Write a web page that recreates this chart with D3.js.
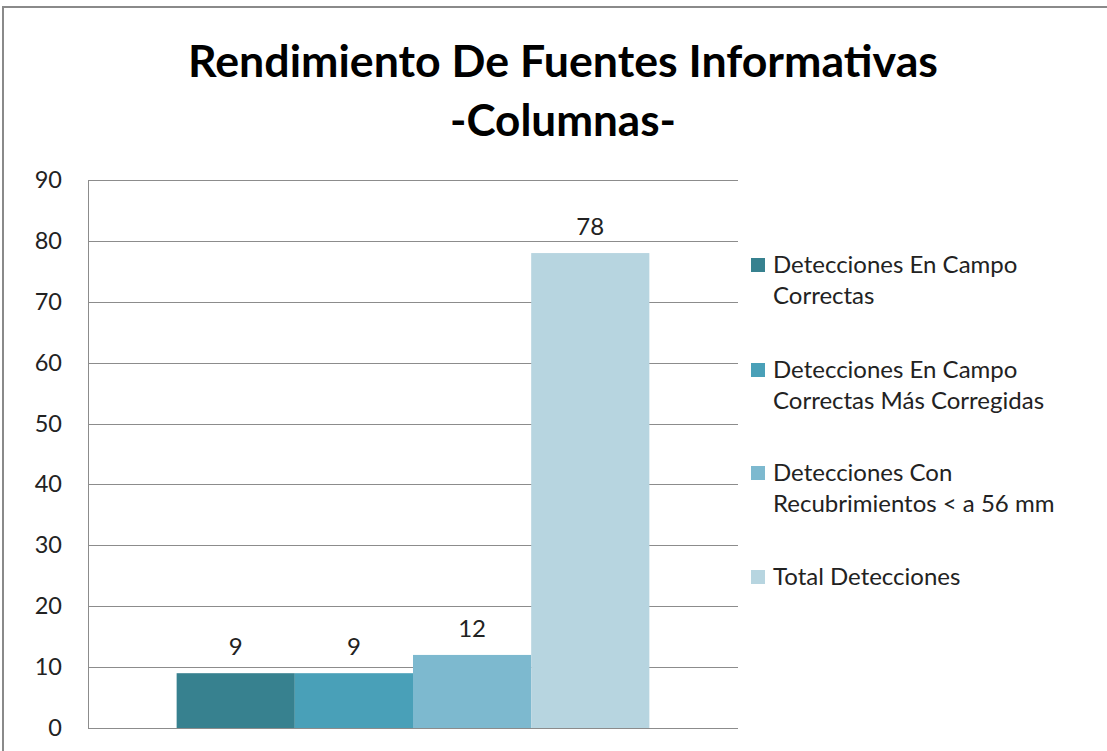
<!DOCTYPE html>
<html><head><meta charset="utf-8">
<script src="https://cdn.jsdelivr.net/npm/d3@7"></script>
<style>body{margin:0;background:#fff}svg{display:block}</style>
</head><body>
<svg id="c" width="1107" height="751"></svg>
<script>
const titleLines = ["Rendimiento De Fuentes Informativas", "-Columnas-"];
const seriesNames = ["Detecciones En Campo|Correctas", "Detecciones En Campo|Correctas Más Corregidas", "Detecciones Con|Recubrimientos < a 56 mm", "Total Detecciones"];
const seriesValues = [9, 9, 12, 78];
const seriesColors = ["#37818F", "#49A0B8", "#7DB9CF", "#B7D5E0"];
const yTicks = [0, 10, 20, 30, 40, 50, 60, 70, 80, 90];
const category = ["Fuentes"];

const svg = d3.select("#c");
const font = "Lato, 'Open Sans', sans-serif";

// measure font scale so legend text matches reference width
const probe = svg.append("text").attr("font-family", font).attr("font-size", 20).text("Detecciones En Campo");
const w20 = probe.node().getComputedTextLength();
probe.remove();
const fs = Math.max(18, Math.min(24, 20 * 246 / (w20 || 214)));

// outer border
svg.append("rect").attr("x", 3).attr("y", 7).attr("width", 1120).attr("height", 760)
  .attr("fill", "#fff").attr("stroke", "#8a8a8a").attr("stroke-width", 2);

// title
const tWidths = [750, 226];
titleLines.forEach((t, i) => {
  svg.append("text").attr("x", 563).attr("y", 77 + i * 59)
    .attr("text-anchor", "middle").attr("font-family", "Lato, 'Open Sans', sans-serif")
    .attr("font-weight", "bold").attr("font-size", 43).attr("fill", "#000").text(t)
    .attr("textLength", tWidths[i]).attr("lengthAdjust", "spacingAndGlyphs");
});

const m = {left: 88, right: 738, top: 180, bottom: 728};
const y = d3.scaleLinear().domain([0, 90]).range([m.bottom, m.top]);

// grid
svg.append("g").selectAll("line").data(yTicks).join("line")
  .attr("x1", m.left).attr("x2", m.right)
  .attr("y1", d => Math.round(y(d)) + 0.5).attr("y2", d => Math.round(y(d)) + 0.5)
  .attr("stroke", "#8c8c8c").attr("stroke-width", 1);
svg.append("line").attr("x1", m.left + 0.5).attr("x2", m.left + 0.5)
  .attr("y1", m.top).attr("y2", m.bottom).attr("stroke", "#8c8c8c");

// y axis labels
const yAxis = d3.axisLeft(y).tickValues(yTicks).tickSize(0).tickPadding(26);
const ga = svg.append("g").attr("transform", `translate(${m.left},0)`).call(yAxis);
ga.select(".domain").remove();
ga.selectAll("text").attr("font-family", font).attr("font-size", fs * 0.98).attr("fill", "#222");

// bars (single category, gap width 150%)
const x0 = d3.scaleBand().domain(category).range([m.left, m.right]);
const bw = x0.bandwidth() / 5.5;
const xs = d3.scaleBand().domain(d3.range(seriesValues.length))
  .range([x0(category[0]) + 0.75 * bw, x0(category[0]) + x0.bandwidth() - 0.75 * bw]).padding(0);
svg.append("g").selectAll("rect").data(seriesValues).join("rect")
  .attr("x", (d, i) => xs(i)).attr("width", xs.bandwidth())
  .attr("y", d => y(d)).attr("height", d => y(0) - y(d))
  .attr("fill", (d, i) => seriesColors[i]);
svg.append("g").selectAll("text").data(seriesValues).join("text")
  .attr("x", (d, i) => xs(i) + xs.bandwidth() / 2).attr("y", d => y(d) - 18)
  .attr("text-anchor", "middle").attr("font-family", font).attr("font-size", fs).attr("fill", "#222")
  .text(d => d);

// legend
const legY = [265, 370, 473, 577];
const lg = svg.append("g");
seriesNames.forEach((n, i) => {
  lg.append("rect").attr("x", 751).attr("y", legY[i] - 7).attr("width", 14).attr("height", 14)
    .attr("fill", seriesColors[i]);
  n.split("|").forEach((line, j) => {
    lg.append("text").attr("x", 773).attr("y", legY[i] + j * 31).attr("dy", "0.35em")
      .attr("font-family", font).attr("font-size", fs).attr("fill", "#222").text(line);
  });
});
</script>
</body></html>
